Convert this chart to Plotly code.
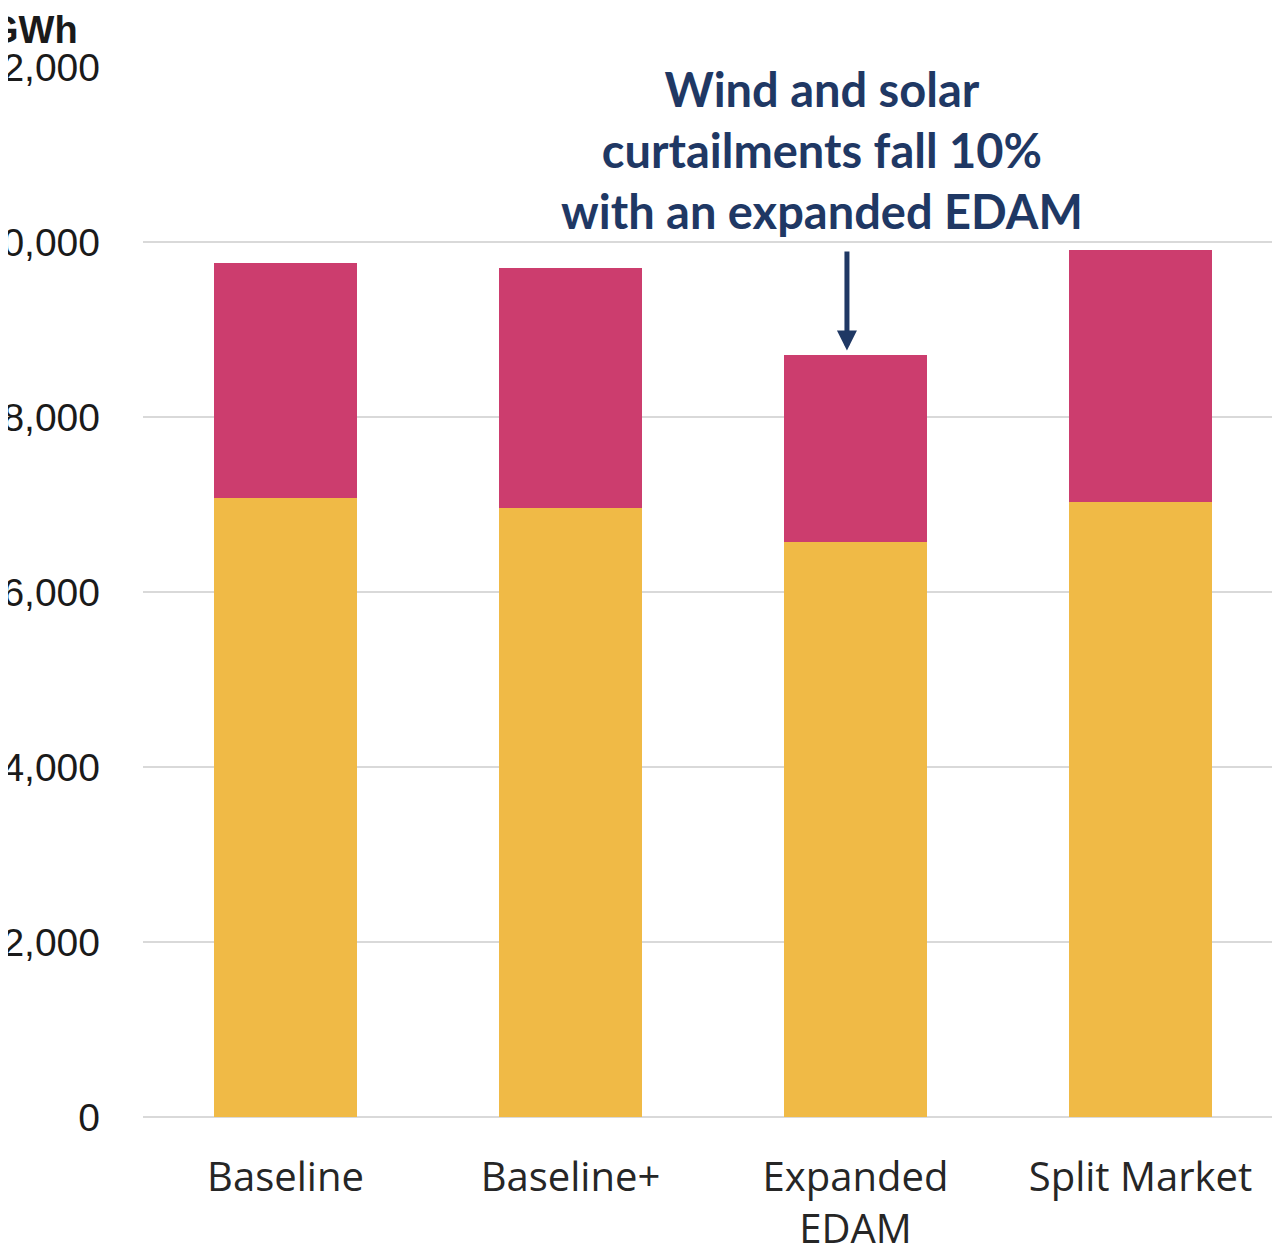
import plotly.graph_objects as go

categories = ["Baseline", "Baseline+", "Expanded<br>EDAM", "Split Market"]
yellow_vals = [7070, 6960, 6570, 7030]
red_vals = [2690, 2745, 2140, 2880]
ytick_vals = [0, 2000, 4000, 6000, 8000, 10000, 12000]
ytick_text = ["0", "2,000", "4,000", "6,000", "8,000", "10,000", "12,000"]

YELLOW = "#F0BA46"
RED = "#CC3D6E"
NAVY = "#1F3864"

fig = go.Figure()
fig.add_trace(go.Bar(x=categories, y=yellow_vals, marker=dict(color=YELLOW, line=dict(width=0)), width=0.5, showlegend=False))
fig.add_trace(go.Bar(x=categories, y=red_vals, marker=dict(color=RED, line=dict(width=0)), width=0.5, showlegend=False))

# page has an 8px body margin; compensate
OFF = 8
L, T = 143 - OFF, 67 - OFF
W, H = 1280, 1250
ph = 1050
B = H - T - ph
R = 0
pw = W - L - R
cat_px = 285.0
xspan = pw / cat_px

def px_x(sx):
    return (sx - OFF - L) / pw

def px_y(sy):
    return (T + ph - (sy - OFF)) / ph

fig.update_layout(
    barmode="stack",
    width=W, height=H,
    margin=dict(l=L, r=R, t=T, b=B, autoexpand=False),
    paper_bgcolor="white", plot_bgcolor="white",
    xaxis=dict(range=[-0.5, -0.5 + xspan], showgrid=False, showline=False, zeroline=False,
               tickfont=dict(family="Open Sans", size=40, color="#262626"),
               ticklabelstandoff=33, automargin=False),
    yaxis=dict(range=[0, 12000], tickvals=ytick_vals, ticktext=ytick_text,
               showgrid=True, gridcolor="#D9D9D9", gridwidth=2,
               zeroline=True, zerolinecolor="#D9D9D9", zerolinewidth=2,
               showline=False,
               tickfont=dict(family="Liberation Sans", size=39, color="#1a1a1a"),
               ticklabelstandoff=42, automargin=False),
    font=dict(family="Lato"),
)

fig.add_annotation(
    xref="paper", yref="paper",
    x=px_x(-13), y=px_y(30),
    xanchor="left", yanchor="middle",
    text="<b>GWh</b>", showarrow=False,
    font=dict(family="Liberation Sans", size=38, color="#1a1a1a"),
)

fig.add_annotation(
    xref="paper", yref="paper",
    x=px_x(822), y=px_y(150),
    xanchor="center", yanchor="middle",
    text="<b>Wind and solar<br>curtailments fall 10%<br>with an expanded EDAM</b>",
    showarrow=False, align="center",
    font=dict(family="Lato", size=47, color=NAVY),
)

fig.add_annotation(
    xref="x", yref="y", axref="x", ayref="y",
    x=1.97, y=8760, ax=1.97, ay=9910,
    text="", showarrow=True, arrowhead=2, arrowsize=0.8, arrowwidth=5,
    arrowcolor=NAVY, standoff=0, startstandoff=0,
)

fig.write_html("out.html")
